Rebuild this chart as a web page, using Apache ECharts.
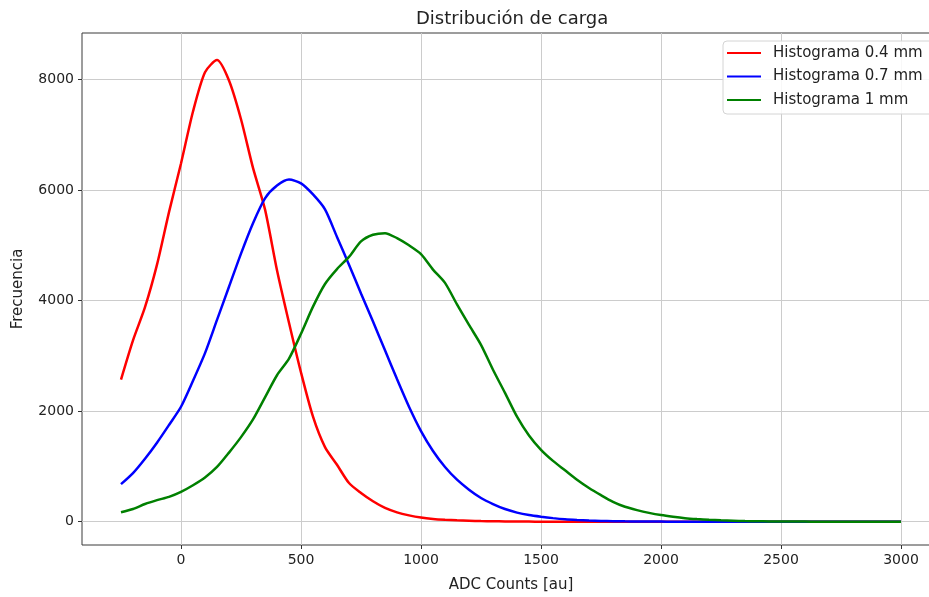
<!DOCTYPE html>
<html>
<head>
<meta charset="utf-8">
<script src="https://cdn.jsdelivr.net/npm/echarts@6.0.0/dist/echarts.min.js"></script>
<style>
html,body{margin:0;padding:0;overflow:hidden;background:#fff;}
#chart{width:929px;height:597px;}
</style>
</head>
<body>
<div id="chart"></div>
<script>
const adcCounts = [-250,-200,-150,-100,-50,0,50,100,150,200,250,300,350,400,450,500,550,600,650,700,750,800,850,900,950,1000,1050,1100,1150,1200,1250,1300,1350,1400,1450,1500,1550,1600,1650,1700,1750,1800,1850,1900,1950,2000,2050,2100,2150,2200,2250,2300,2350,2400,2450,2500,2550,2600,2650,2700,2750,2800,2850,2900,2950,3000];

const hist04 = [2570,3280,3880,4650,5600,6480,7420,8130,8350,7980,7280,6400,5650,4550,3600,2700,1900,1350,1030,700,520,370,250,170,115,75,50,35,25,18,12,8,5,3,2,1,1,0,0,0,0,0,0,0,0,0,0,0,0,0,0,0,0,0,0,0,0,0,0,0,0,0,0,0,0,0];

const hist07 = [680,880,1140,1430,1750,2080,2550,3050,3650,4250,4850,5400,5850,6080,6190,6120,5920,5650,5150,4650,4130,3620,3100,2580,2080,1640,1280,990,760,580,430,320,230,165,120,90,65,45,32,22,15,10,7,5,3,2,1,1,0,0,0,0,0,0,0,0,0,0,0,0,0,0,0,0,0,0];

const hist10 = [170,230,320,390,450,540,660,800,990,1250,1530,1850,2250,2650,2950,3400,3890,4300,4570,4790,5070,5190,5220,5130,5000,4840,4560,4320,3930,3560,3200,2750,2330,1900,1560,1300,1100,930,760,610,480,360,270,210,160,120,90,65,48,35,25,18,12,9,6,4,3,2,1,1,0,0,0,0,0,0];

const seriesNames = ['Histograma 0.4 mm','Histograma 0.7 mm','Histograma 1 mm'];
const seriesColors = ['#ff0000','#0000ff','#008000'];
const xTicks = [0,500,1000,1500,2000,2500,3000];
const yTicks = [0,2000,4000,6000,8000];

function pairs(ys){ return adcCounts.map((x,i)=>[x, ys[i]]); }

const font = 'DejaVu Sans';
const chart = echarts.init(document.getElementById('chart'), null, {renderer:'canvas'});
chart.setOption({
  animation: false,
  backgroundColor: '#ffffff',
  title: {
    text: 'Distribución de carga',
    left: 411, top: 5,
    textStyle: {fontFamily: font, fontSize: 18, fontWeight: 'normal', color: '#222'}
  },
  legend: {
    orient: 'vertical',
    left: 723, top: 41,
    padding: [4, 12, 6, 4],
    itemGap: 7.5,
    itemWidth: 34, itemHeight: 2,
    icon: 'rect',
    backgroundColor: 'rgba(255,255,255,0.85)',
    borderColor: '#d4d4d4', borderWidth: 1, borderRadius: 4,
    textStyle: {fontFamily: font, fontSize: 15, lineHeight: 16, color: '#222', padding: [0,0,0,7]},
    data: seriesNames
  },
  grid: {
    left: 82, top: 33, right: -11, bottom: 52,
    outerBoundsMode: 'none', containLabel: false,
    show: true, borderColor: '#3a3a3a', borderWidth: 1
  },
  xAxis: {
    type: 'value', min: -412.5, max: 3162.5,
    name: 'ADC Counts [au]', nameLocation: 'middle', nameGap: 33,
    nameTextStyle: {fontFamily: font, fontSize: 15, color: '#222'},
    axisLine: {show: false, onZero: false},
    axisTick: {show: true, inside: false, customValues: xTicks, length: 4, lineStyle: {color: '#333'}},
    axisLabel: {customValues: xTicks, fontFamily: font, fontSize: 14, color: '#222', margin: 8,
      formatter: v => String(v)},
    splitLine: {show: true, lineStyle: {color: '#cccccc', width: 1}}
  },
  yAxis: {
    type: 'value', min: -421, max: 8840,
    name: 'Frecuencia', nameLocation: 'middle', nameGap: 56, nameRotate: 90,
    nameTextStyle: {fontFamily: font, fontSize: 15, color: '#222'},
    axisLine: {show: false, onZero: false},
    axisTick: {show: true, inside: false, customValues: yTicks, length: 4, lineStyle: {color: '#333'}},
    axisLabel: {customValues: yTicks, fontFamily: font, fontSize: 14, color: '#222', margin: 8,
      formatter: v => String(v)},
    splitLine: {show: true, lineStyle: {color: '#cccccc', width: 1}}
  },
  series: [hist04, hist07, hist10].map((ys, i) => ({
    name: seriesNames[i],
    type: 'line',
    data: pairs(ys),
    showSymbol: false,
    smooth: 0.25,
    color: seriesColors[i],
    lineStyle: {width: 2.5, color: seriesColors[i]}
  }))
});
</script>
</body>
</html>
